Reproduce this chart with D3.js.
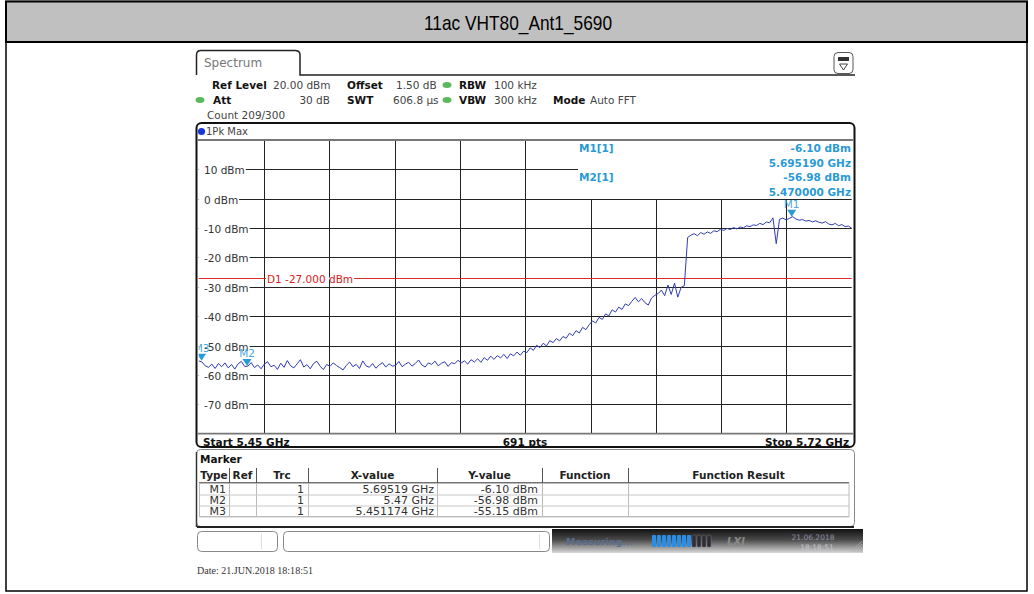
<!DOCTYPE html>
<html>
<head>
<meta charset="utf-8">
<script src="https://cdn.jsdelivr.net/npm/d3@7"></script>
<style>
body { margin: 0; background: #fff; }
svg { display: block; }
</style>
</head>
<body>
<script>
// values
const title = "11ac VHT80_Ant1_5690";
const startGHz = 5.45, stopGHz = 5.72;
const refLevel = 20, bottomLevel = -80;
const yTicks = [10, 0, -10, -20, -30, -40, -50, -60, -70];
const xDivs = 10;
const displayLine = -27;
const displayLineText = "D1  -27.000 dBm";

// trace (1Pk Max), evenly spaced over the span
const traceDbm = [
  -55.2, -55.6, -56.9, -57.4, -56.3, -57.8, -56.1, -57.2, -55.9, -57.6,
  -56.4, -58.0, -56.2, -55.4, -57.1, -57.0, -55.8, -57.5, -56.6, -57.9,
  -56.3, -55.5, -57.2, -56.7, -58.1, -56.0, -57.4, -55.1, -56.9, -57.6,
  -56.2, -54.8, -57.3, -56.5, -57.9, -56.1, -55.3, -57.0, -58.2, -56.4,
  -57.1, -55.9, -56.8, -57.5, -58.3, -56.7, -55.6, -57.2, -56.4, -57.8,
  -55.2, -56.9, -57.4, -56.1, -57.7, -56.6, -55.8, -57.3, -56.2, -57.0,
  -56.8, -55.4, -57.2, -56.3, -55.7, -57.0, -56.1, -54.9, -56.6, -57.3,
  -55.9, -56.4, -55.3, -56.9, -56.0, -55.5, -57.1, -55.8, -56.2, -55.0,
  -55.9, -55.2, -56.3, -54.8, -55.6, -54.5, -55.7, -54.1, -55.0, -53.6,
  -54.7, -53.4, -54.2, -53.0, -54.4, -52.8, -53.5, -52.2, -53.3, -51.9,
  -52.4, -50.8, -51.6, -49.9, -50.7, -49.2, -50.1, -48.3, -49.0, -47.6,
  -48.4, -46.9, -47.5, -45.8, -46.6, -44.9, -45.7, -43.8, -44.6, -42.9,
  -41.6, -42.3, -40.4, -41.1, -39.2, -39.9, -37.8, -38.6, -36.9, -37.7,
  -35.8, -36.4, -34.9, -33.6, -35.1, -34.0, -35.4, -36.2, -33.8, -32.9,
  -32.3, -31.1, -33.0, -29.4, -32.6, -28.7, -33.5, -30.2, -29.6,
  -13.2, -12.4, -11.9, -12.6, -11.5, -12.1, -11.3, -11.8, -10.9, -11.2,
  -10.4, -10.8, -10.1, -10.5, -9.8, -10.3, -9.6, -9.9, -9.2, -9.5,
  -8.9, -9.1, -8.4, -8.8, -7.9, -8.2, -6.5,
  -15.3, -7.0, -6.6, -7.2, -6.7, -6.1, -6.9, -7.3, -7.1, -7.6,
  -7.4, -7.9, -7.5, -8.0, -8.3, -7.8, -8.6, -8.9, -8.4, -9.2,
  -8.8, -9.5, -9.3, -10.0
];

const markerNames = ["M1", "M2", "M3"];
const markerFreqs = [5.69519, 5.47, 5.451174];
const markerLevels = [-6.10, -56.98, -55.15];
const markerXText = ["5.69519 GHz", "5.47 GHz", "5.451174 GHz"];
const markerYText = ["-6.10 dBm", "-56.98 dBm", "-55.15 dBm"];
const markerTrc = ["1", "1", "1"];
const tableCols = ["Type", "Ref", "Trc", "X-value", "Y-value", "Function", "Function Result"];

const width = 1034, height = 594;
const font = "'DejaVu Sans', Verdana, sans-serif";
const mkBlue = "#2a9ad6";

const svg = d3.select("body").append("svg").attr("width", width).attr("height", height);

// page frame + title band
svg.append("rect").attr("x", 6).attr("y", 1.5).attr("width", 1021).attr("height", 589.5)
  .attr("fill", "#fff").attr("stroke", "#000").attr("stroke-width", 1.5);
svg.append("rect").attr("x", 6).attr("y", 1.5).attr("width", 1021).attr("height", 40.5)
  .attr("fill", "#c0c0c0").attr("stroke", "#000").attr("stroke-width", 2);
svg.append("text").attr("x", 518).attr("y", 22).attr("text-anchor", "middle")
  .attr("dominant-baseline", "central")
  .attr("textLength", 188).attr("lengthAdjust", "spacingAndGlyphs")
  .style("font-family", "'Liberation Sans Narrow', 'Arial Narrow', 'Liberation Sans', sans-serif")
  .style("font-size", "21px").attr("fill", "#000").text(title);

// ---- spectrum tab
svg.append("path")
  .attr("d", "M196.5,75 L196.5,55 Q196.5,50.5 201,50.5 L295,50.5 Q300,50.5 300,55 L300,75 L855,75")
  .attr("fill", "none").attr("stroke", "#222").attr("stroke-width", 1.5);
svg.append("text").attr("x", 204).attr("y", 63).attr("dominant-baseline", "central")
  .style("font-family", font).style("font-size", "12px").attr("fill", "#777").text("Spectrum");

// little menu icon at top right
svg.append("rect").attr("x", 834).attr("y", 52.5).attr("width", 19).attr("height", 21).attr("rx", 4)
  .attr("fill", "#fff").attr("stroke", "#555");
svg.append("rect").attr("x", 838).attr("y", 57).attr("width", 11).attr("height", 4).attr("fill", "#333");
svg.append("path").attr("d", "M839.5,64 L847.5,64 L843.5,70 Z").attr("fill", "none").attr("stroke", "#444");

// ---- setting lines
const settings = [
  ["Ref Level", 212, 85, true, "start"], ["20.00 dBm", 273, 85, false, "start"],
  ["Offset", 347, 85, true, "start"], ["1.50 dB", 396, 85, false, "start"],
  ["RBW", 459, 85, true, "start"], ["100 kHz", 494, 85, false, "start"],
  ["Att", 213, 100, true, "start"], ["30 dB", 330, 100, false, "end"],
  ["SWT", 347, 100, true, "start"], ["606.8 µs", 393, 100, false, "start"],
  ["VBW", 459, 100, true, "start"], ["300 kHz", 494, 100, false, "start"],
  ["Mode", 553, 100, true, "start"], ["Auto FFT", 590, 100, false, "start"],
  ["Count 209/300", 207, 115, false, "start"]
];
svg.append("g").selectAll("text").data(settings).join("text")
  .attr("x", d => d[1]).attr("y", d => d[2])
  .attr("dominant-baseline", "central").attr("text-anchor", d => d[4])
  .style("font-family", font).style("font-size", "10.5px")
  .style("font-weight", d => d[3] ? "bold" : "normal")
  .attr("fill", d => d[3] ? "#111" : "#444").text(d => d[0]);
[[447, 85], [447, 100], [200, 100]].forEach(p => {
  svg.append("ellipse").attr("cx", p[0]).attr("cy", p[1]).attr("rx", 4.5).attr("ry", 3)
    .attr("fill", "#5cb85c");
});

// ---- diagram frame
svg.append("rect").attr("x", 196.5).attr("y", 123).attr("width", 658).attr("height", 324).attr("rx", 5)
  .attr("fill", "#fff").attr("stroke", "#111").attr("stroke-width", 2);
svg.append("circle").attr("cx", 201.5).attr("cy", 131.5).attr("r", 3.6).attr("fill", "#1636d8");
svg.append("text").attr("x", 206).attr("y", 131.5).attr("dominant-baseline", "central")
  .style("font-family", font).style("font-size", "10px").attr("fill", "#444").text("1Pk Max");

const x = d3.scaleLinear().domain([startGHz, stopGHz]).range([198.7, 851.7]);
const y = d3.scaleLinear().domain([refLevel, bottomLevel]).range([140, 433.7]);
const divGHz = (stopGHz - startGHz) / xDivs;

const grid = svg.append("g");
// vertical division lines
d3.range(1, xDivs).forEach(i => {
  const xx = Math.round(x(startGHz + i * divGHz)) + 0.5;
  grid.append("line").attr("x1", xx).attr("x2", xx).attr("y1", 140).attr("y2", 433.7)
    .attr("stroke", "#222").attr("stroke-width", 1);
});
// horizontal level lines
yTicks.forEach(v => {
  const yy = Math.round(y(v)) + 0.5;
  grid.append("line").attr("x1", 198.7).attr("x2", 851.7).attr("y1", yy).attr("y2", yy)
    .attr("stroke", "#222").attr("stroke-width", 1);
});
[refLevel, bottomLevel].forEach(v => {
  grid.append("line").attr("x1", 197.5).attr("x2", 853).attr("y1", y(v)).attr("y2", y(v))
    .attr("stroke", "#777").attr("stroke-width", 1.8);
});

// marker info box covers upper right grid
grid.append("rect").attr("x", 578).attr("y", 141).attr("width", 274).attr("height", Math.round(y(0)) - 141)
  .attr("fill", "#fff");

// level labels, with gap in the grid line
const lab = svg.append("g");
yTicks.forEach(v => {
  const yy = Math.round(y(v)) + 0.5;
  const t = lab.append("text").attr("x", 204).attr("y", yy).attr("dominant-baseline", "central")
    .style("font-family", font).style("font-size", "10.5px").attr("fill", "#333")
    .text(v + " dBm");
  const w = t.node().getComputedTextLength();
  lab.insert("rect", "text").attr("x", 199).attr("y", yy - 1).attr("width", w + 6).attr("height", 2)
    .attr("fill", "#fff");
});

// display line D1
const yD = Math.round(y(displayLine)) + 0.5;
svg.append("line").attr("x1", 198.7).attr("x2", 851.7).attr("y1", yD).attr("y2", yD)
  .attr("stroke", "#e02a2a").attr("stroke-width", 1);
const d1g = svg.append("g");
const dTxt = d1g.append("text").attr("x", 267).attr("y", yD).attr("dominant-baseline", "central")
  .style("font-family", font).style("font-size", "10.5px").attr("fill", "#d82020").text(displayLineText);
const dW = dTxt.node().getComputedTextLength();
d1g.insert("rect", "text").attr("x", 266).attr("y", yD - 1).attr("width", dW + 2).attr("height", 2)
  .attr("fill", "#fff");

// clip for trace and markers
svg.append("clipPath").attr("id", "plotclip").append("rect")
  .attr("x", 198.7).attr("y", 140).attr("width", 653).attr("height", 294);
const plot = svg.append("g").attr("clip-path", "url(#plotclip)");

const nPts = traceDbm.length;
const trace = traceDbm.map((v, i) => ({ f: startGHz + i * (stopGHz - startGHz) / (nPts - 1), v }));
plot.append("path").datum(trace)
  .attr("d", d3.line().x(d => x(d.f)).y(d => y(d.v)))
  .attr("fill", "none").attr("stroke", "#2f3cb4").attr("stroke-width", 1);

// markers
markerNames.forEach((m, i) => {
  const mx = x(markerFreqs[i]), my = y(markerLevels[i]);
  plot.append("path").attr("d", `M${mx - 4.5},${my - 7} L${mx + 4.5},${my - 7} L${mx},${my} Z`)
    .attr("fill", mkBlue);
  plot.append("text").attr("x", mx).attr("y", my - 13).attr("text-anchor", "middle")
    .attr("dominant-baseline", "central")
    .style("font-family", font).style("font-size", "10.5px").attr("fill", "#4aa8dc").text(m);
});

// marker readout
const ro = svg.append("g").style("font-family", font).style("font-size", "10.5px")
  .style("font-weight", "bold").attr("fill", mkBlue);
[0, 1].forEach(i => {
  const y0 = 148 + i * 29;
  ro.append("text").attr("x", 579).attr("y", y0).attr("dominant-baseline", "central")
    .text(markerNames[i] + "[1]");
  ro.append("text").attr("x", 851).attr("y", y0).attr("text-anchor", "end").attr("dominant-baseline", "central")
    .text(markerYText[i]);
  ro.append("text").attr("x", 851).attr("y", y0 + 14.5).attr("text-anchor", "end").attr("dominant-baseline", "central")
    .text(markerFreqs[i].toFixed(6) + " GHz");
});

// footer of diagram
const foot = svg.append("g").style("font-family", font).style("font-size", "10.5px")
  .style("font-weight", "bold").attr("fill", "#111");
foot.append("text").attr("x", 203).attr("y", 442).attr("dominant-baseline", "central")
  .text("Start " + startGHz + " GHz");
foot.append("text").attr("x", 525).attr("y", 442).attr("text-anchor", "middle").attr("dominant-baseline", "central")
  .text("691 pts");
foot.append("text").attr("x", 849).attr("y", 442).attr("text-anchor", "end").attr("dominant-baseline", "central")
  .text("Stop " + stopGHz + " GHz");

// ---- marker table
svg.append("rect").attr("x", 196.5).attr("y", 449.5).attr("width", 658).attr("height", 77).attr("rx", 4)
  .attr("fill", "#fff").attr("stroke", "#888").attr("stroke-width", 1);
svg.append("line").attr("x1", 197).attr("x2", 854).attr("y1", 527).attr("y2", 527)
  .attr("stroke", "#222").attr("stroke-width", 2);
svg.append("line").attr("x1", 196.5).attr("x2", 196.5).attr("y1", 452).attr("y2", 527)
  .attr("stroke", "#333").attr("stroke-width", 1.5);
svg.append("text").attr("x", 200).attr("y", 459).attr("dominant-baseline", "central")
  .style("font-family", font).style("font-size", "10.5px").style("font-weight", "bold")
  .attr("fill", "#111").text("Marker");

const colEdges = [199, 229, 256, 308, 437, 542, 628, 849];
const headY = 475, rowTop = 483.5, rowH = 11;
const tbl = svg.append("g").style("font-family", font).style("font-size", "10.5px");
tableCols.forEach((c, i) => {
  tbl.append("text").attr("x", (colEdges[i] + colEdges[i + 1]) / 2).attr("y", headY)
    .attr("text-anchor", "middle").attr("dominant-baseline", "central")
    .style("font-weight", "bold").attr("fill", "#222").text(c);
});
colEdges.slice(1, -1).forEach(cx => {
  tbl.append("line").attr("x1", cx + 0.5).attr("x2", cx + 0.5).attr("y1", 468).attr("y2", rowTop)
    .attr("stroke", "#555");
  tbl.append("line").attr("x1", cx + 0.5).attr("x2", cx + 0.5).attr("y1", rowTop).attr("y2", rowTop + 3 * rowH)
    .attr("stroke", "#bbb");
});
tbl.append("line").attr("x1", 199).attr("x2", 849).attr("y1", rowTop - 0.5).attr("y2", rowTop - 0.5)
  .attr("stroke", "#444").attr("stroke-width", 1.5);
[1, 2, 3].forEach(k => {
  tbl.append("line").attr("x1", 199).attr("x2", 849).attr("y1", rowTop + k * rowH + 0.5).attr("y2", rowTop + k * rowH + 0.5)
    .attr("stroke", "#c8c8c8");
});
tbl.append("rect").attr("x", 199.5).attr("y", rowTop).attr("width", 649.5).attr("height", 3 * rowH)
  .attr("fill", "none").attr("stroke", "#bbb");
markerNames.forEach((m, i) => {
  const ry = rowTop + i * rowH + rowH / 2;
  const cells = [[m, 226], [markerTrc[i], 304], [markerXText[i], 434], [markerYText[i], 538]];
  cells.forEach(c => {
    tbl.append("text").attr("x", c[1]).attr("y", ry).attr("text-anchor", "end")
      .attr("dominant-baseline", "central").style("font-size", "11px").attr("fill", "#333").text(c[0]);
  });
});

// ---- status bar
svg.append("rect").attr("x", 197.5).attr("y", 531.5).attr("width", 80).attr("height", 20).attr("rx", 4)
  .attr("fill", "#fff").attr("stroke", "#888");
svg.append("line").attr("x1", 261.5).attr("x2", 261.5).attr("y1", 534).attr("y2", 549).attr("stroke", "#ddd");
svg.append("rect").attr("x", 283.5).attr("y", 531.5).attr("width", 266).attr("height", 20).attr("rx", 4)
  .attr("fill", "#fff").attr("stroke", "#888");
svg.append("line").attr("x1", 539.5).attr("x2", 539.5).attr("y1", 534).attr("y2", 549).attr("stroke", "#ddd");

const grad = svg.append("defs").append("linearGradient").attr("id", "bar").attr("x1", 0).attr("x2", 0).attr("y1", 0).attr("y2", 1);
grad.append("stop").attr("offset", "0%").attr("stop-color", "#111");
grad.append("stop").attr("offset", "45%").attr("stop-color", "#4a4a4a");
grad.append("stop").attr("offset", "100%").attr("stop-color", "#d8d8d8");
svg.append("rect").attr("x", 552).attr("y", 529).attr("width", 311).attr("height", 24).attr("fill", "url(#bar)");
svg.append("text").attr("x", 566).attr("y", 541).attr("dominant-baseline", "central")
  .style("font-family", font).style("font-size", "9.5px").style("font-weight", "bold")
  .attr("fill", "#5a6c8c").text("Measuring...");
d3.range(8).forEach(k => {
  svg.append("rect").attr("x", 652 + k * 5).attr("y", 535).attr("width", 4).attr("height", 12).attr("rx", 1)
    .attr("fill", "#2a8ee6");
});
d3.range(4).forEach(k => {
  svg.append("rect").attr("x", 692 + k * 5).attr("y", 535).attr("width", 4).attr("height", 12).attr("rx", 1)
    .attr("fill", "#2c2c34").attr("stroke", "#777").attr("stroke-width", 0.5);
});
svg.append("text").attr("x", 736).attr("y", 541).attr("text-anchor", "middle").attr("dominant-baseline", "central")
  .style("font-family", font).style("font-size", "10px").style("font-weight", "bold").style("font-style", "italic")
  .attr("fill", "#8a8a8a").text("LXI");
svg.append("text").attr("x", 813).attr("y", 537).attr("text-anchor", "middle").attr("dominant-baseline", "central")
  .style("font-family", font).style("font-size", "7.5px").attr("fill", "#8f90a8").text("21.06.2018");
svg.append("text").attr("x", 817).attr("y", 547).attr("text-anchor", "middle").attr("dominant-baseline", "central")
  .style("font-family", font).style("font-size", "7.5px").attr("fill", "#c4c4cc").text("18:18:51");
d3.range(4).forEach(k => {
  svg.append("line").attr("x1", 851 + k * 3).attr("y1", 552).attr("x2", 862).attr("y2", 541 + k * 3)
    .attr("stroke", "#aaa").attr("stroke-width", 0.7);
});

// date stamp
svg.append("text").attr("x", 197).attr("y", 571).attr("dominant-baseline", "central")
  .attr("textLength", 116).attr("lengthAdjust", "spacingAndGlyphs")
  .style("font-family", "'Liberation Serif', 'DejaVu Serif', serif").style("font-size", "9.5px")
  .attr("fill", "#333").text("Date: 21.JUN.2018  18:18:51");
</script>
</body>
</html>
